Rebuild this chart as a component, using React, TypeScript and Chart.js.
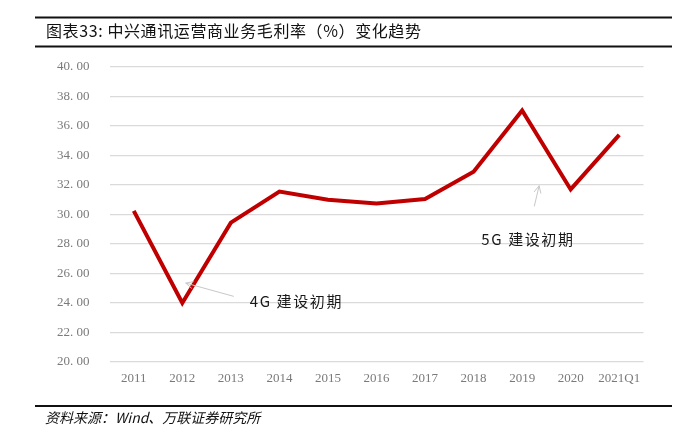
import React, { useEffect, useRef } from "react";
import { Chart, registerables } from "chart.js";

Chart.register(...registerables);

const categories = ["2011", "2012", "2013", "2014", "2015", "2016", "2017", "2018", "2019", "2020", "2021Q1"];
const margins = [30.25, 24.0, 29.45, 31.55, 31.0, 30.75, 31.05, 32.9, 37.05, 31.7, 35.4];

const titleText = "图表33: 中兴通讯运营商业务毛利率（%）变化趋势";
const sourceText = "资料来源：Wind、万联证券研究所";

const notes = [
  { label: "4G 建设初期", tx: 3.35, ty: 24.1, from: [2.06, 24.45], to: [1.07, 25.35] },
  { label: "5G 建设初期", tx: 8.12, ty: 28.3, from: [8.25, 30.55], to: [8.35, 31.95] },
];

const CJK = "'Noto Sans CJK SC', 'Noto Sans', sans-serif";

const decorPlugin = {
  id: "decor",
  beforeDraw(chart: any) {
    const ctx = chart.ctx;
    ctx.save();
    ctx.fillStyle = "#ffffff";
    ctx.fillRect(0, 0, chart.width, chart.height);
    ctx.strokeStyle = "#111111";
    ctx.lineWidth = 2.2;
    [17.5, 46.5, 406].forEach((y) => {
      ctx.beginPath();
      ctx.moveTo(35, y);
      ctx.lineTo(672, y);
      ctx.stroke();
    });
    ctx.fillStyle = "#111111";
    ctx.textBaseline = "middle";
    ctx.textAlign = "left";
    ctx.letterSpacing = "0.6px";
    ctx.font = `16px ${CJK}`;
    ctx.fillText(titleText, 46, 31);
    ctx.letterSpacing = "0px";
    ctx.font = `italic 14px ${CJK}`;
    ctx.fillText(sourceText, 45, 418);
    ctx.restore();
  },
  afterDatasetsDraw(chart: any) {
    const ctx = chart.ctx;
    const xs = chart.scales.x;
    const ys = chart.scales.y;
    ctx.save();
    notes.forEach((n) => {
      const x1 = xs.getPixelForValue(n.from[0]);
      const y1 = ys.getPixelForValue(n.from[1]);
      const x2 = xs.getPixelForValue(n.to[0]);
      const y2 = ys.getPixelForValue(n.to[1]);
      ctx.strokeStyle = "#c8c8c8";
      ctx.lineWidth = 1;
      ctx.beginPath();
      ctx.moveTo(x1, y1);
      ctx.lineTo(x2, y2);
      const ang = Math.atan2(y2 - y1, x2 - x1);
      const hl = 8;
      ctx.moveTo(x2 - hl * Math.cos(ang - 0.45), y2 - hl * Math.sin(ang - 0.45));
      ctx.lineTo(x2, y2);
      ctx.lineTo(x2 - hl * Math.cos(ang + 0.45), y2 - hl * Math.sin(ang + 0.45));
      ctx.stroke();
      ctx.fillStyle = "#1a1a1a";
      ctx.letterSpacing = "1.6px";
      ctx.font = `15px ${CJK}`;
      ctx.textAlign = "center";
      ctx.textBaseline = "middle";
      ctx.fillText(n.label, xs.getPixelForValue(n.tx), ys.getPixelForValue(n.ty));
    });
    ctx.restore();
  },
};

export default function App() {
  const ref = useRef<HTMLCanvasElement | null>(null);
  useEffect(() => {
    if (!ref.current) return;
    const chart = new Chart(ref.current, {
      type: "line",
      data: {
        labels: categories,
        datasets: [
          {
            data: margins,
            borderColor: "#C00000",
            backgroundColor: "#C00000",
            borderWidth: 4,
            pointRadius: 0,
            tension: 0,
            fill: false,
          },
        ],
      },
      options: {
        responsive: false,
        animation: false,
        layout: { padding: { top: 67, right: 44.5, bottom: 0, left: 0 } },
        plugins: { legend: { display: false }, tooltip: { enabled: false } },
        scales: {
          x: {
            offset: true,
            grid: { display: false, drawTicks: false },
            border: { display: false },
            ticks: {
              padding: 9,
              color: "#7a7a7a",
              font: { family: "'Liberation Serif', serif", size: 13 },
              maxRotation: 0,
              autoSkip: false,
            },
            afterFit(scale: any) {
              scale.height = 81;
            },
          },
          y: {
            min: 20,
            max: 40,
            grid: { color: "#dadada", lineWidth: 1.3, drawTicks: false },
            border: { display: false },
            ticks: {
              stepSize: 2,
              padding: 20,
              color: "#7a7a7a",
              font: { family: "'Liberation Serif', serif", size: 13 },
              callback: (v: any) => Number(v).toFixed(2).replace(".", ". "),
            },
            afterFit(scale: any) {
              scale.width = 109.5;
            },
          },
        },
      },
      plugins: [decorPlugin],
    });
    return () => chart.destroy();
  }, []);
  return (
    <canvas
      ref={ref}
      width={688}
      height={443}
      style={{ position: "absolute", left: 0, top: 0, width: 688, height: 443 }}
    />
  );
}
